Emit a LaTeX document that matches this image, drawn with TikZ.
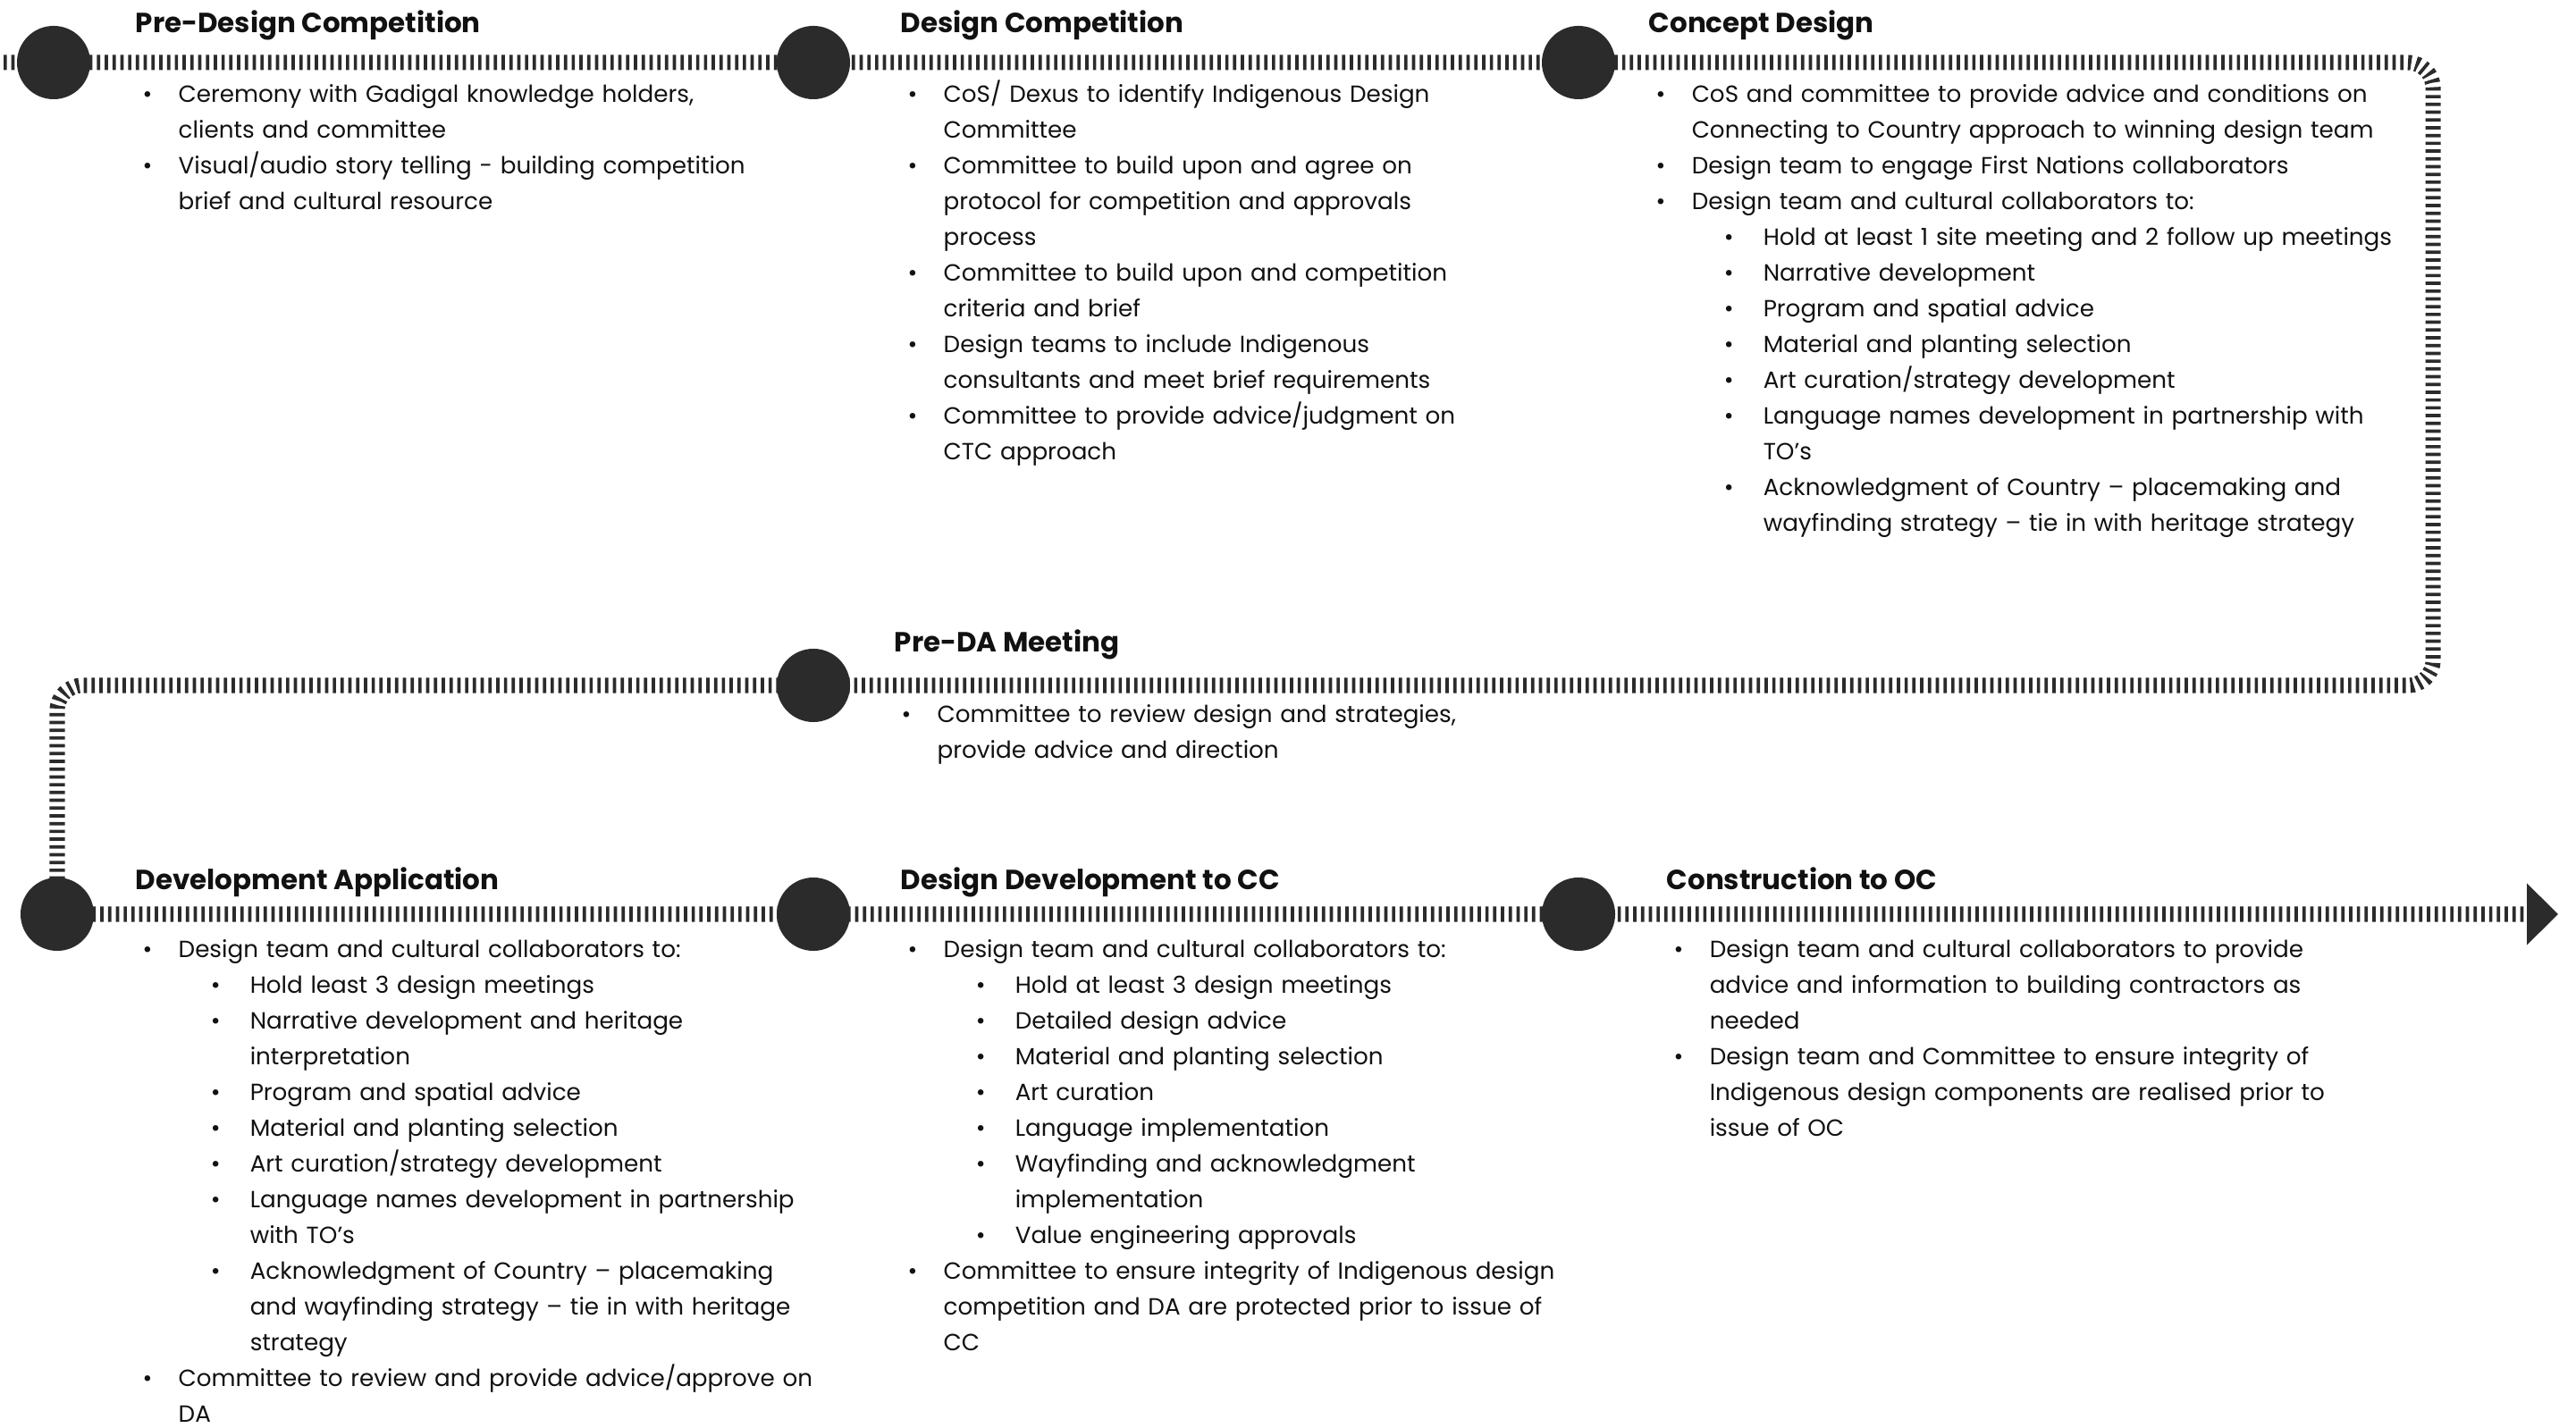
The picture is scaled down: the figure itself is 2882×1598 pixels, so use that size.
\documentclass[tikz,border=0pt]{standalone}
\usepackage{fontspec}
\setmainfont{Poppins}
\usepackage{tikz}
\usetikzlibrary{arrows.meta,positioning}
\definecolor{trackgray}{HTML}{2B2B2B}
\definecolor{inkblack}{HTML}{111111}

\newenvironment{tasklist}{\begin{list}{\textbullet}{\setlength{\leftmargin}{0.48cm}\setlength{\labelwidth}{0.48cm}\setlength{\labelsep}{0pt}\setlength{\itemsep}{0pt}\setlength{\parsep}{0pt}\setlength{\topsep}{0pt}\setlength{\partopsep}{0pt}\renewcommand{\makelabel}[1]{\hspace{0.08cm}##1\hfill}}}{\end{list}}
\newenvironment{subtasklist}{\begin{list}{\textbullet}{\setlength{\leftmargin}{0.8cm}\setlength{\labelwidth}{0.8cm}\setlength{\labelsep}{0pt}\setlength{\itemsep}{0pt}\setlength{\parsep}{0pt}\setlength{\topsep}{0pt}\setlength{\partopsep}{0pt}\renewcommand{\makelabel}[1]{\hspace{0.36cm}##1\hfill}}}{\end{list}}

\begin{document}
\begin{tikzpicture}[x=0.01cm, y=-0.01cm,
  track/.style={draw=trackgray, line width=0.17cm, dash pattern=on 0.037cm off 0.05cm, rounded corners=0.28cm},
  milestone/.style={circle, fill=trackgray, minimum size=0.82cm, inner sep=0pt},
  stagehead/.style={anchor=base west, inner sep=0pt, text=inkblack, font=\fontsize{8.8pt}{10pt}\selectfont\bfseries},
  stagetext/.style={anchor=north west, inner sep=0pt, text=inkblack, text width=9cm, align=left, font=\fontsize{7.45pt}{11.38pt}\selectfont}]
\useasboundingbox (0,0) rectangle (2882,1598);

% the path
\coordinate (start) at (4,70);
\coordinate (turnNE) at (2722,70);
\coordinate (turnSE) at (2722,767);
\coordinate (turnSW) at (64,767);
\coordinate (turnLL) at (64,1023);
\coordinate (finish) at (2862,1023);
\draw[track, -{Triangle[length=0.35cm, width=0.67cm]}] (start) -- (turnNE) -- (turnSE) -- (turnSW) -- (turnLL) -- (finish);

% stops
\node[milestone] (pdc) at (60,70) {};
\node[milestone] (dc) at (910,70) {};
\node[milestone] (cd) at (1766,70) {};
\node[milestone] (pda) at (910,767) {};
\node[milestone] (da) at (64,1023) {};
\node[milestone] (ddc) at (910,1023) {};
\node[milestone] (coc) at (1766,1023) {};

% headings
\node[stagehead] (pdcHead) at (151,37) {Pre-Design Competition};
\node[stagehead] (dcHead) at (1007,37) {Design Competition};
\node[stagehead] (cdHead) at (1844,37) {Concept Design};
\node[stagehead] (pdaHead) at (1000,730) {Pre-DA Meeting};
\node[stagehead] (daHead) at (151,995) {Development Application};
\node[stagehead] (ddcHead) at (1007,995) {Design Development to CC};
\node[stagehead] (cocHead) at (1864,995) {Construction to OC};

% tasks
\node[stagetext] (pdcText) at (151,74) {\begin{tasklist}
\item Ceremony with Gadigal knowledge holders,\\ clients and committee
\item Visual/audio story telling - building competition\\ brief and cultural resource
\end{tasklist}};
\node[stagetext] (dcText) at (1007,74) {\begin{tasklist}
\item CoS/ Dexus to identify Indigenous Design\\ Committee
\item Committee to build upon and agree on\\ protocol for competition and approvals\\ process
\item Committee to build upon and competition\\ criteria and brief
\item Design teams to include Indigenous\\ consultants and meet brief requirements
\item Committee to provide advice/judgment on\\ CTC approach
\end{tasklist}};
\node[stagetext] (cdText) at (1844,74) {\begin{tasklist}
\item CoS and committee to provide advice and conditions on\\ Connecting to Country approach to winning design team
\item Design team to engage First Nations collaborators
\item Design team and cultural collaborators to:
\begin{subtasklist}
\item Hold at least 1 site meeting and 2 follow up meetings
\item Narrative development
\item Program and spatial advice
\item Material and planting selection
\item Art curation/strategy development
\item Language names development in partnership with\\ TO’s
\item Acknowledgment of Country – placemaking and\\ wayfinding strategy – tie in with heritage strategy
\end{subtasklist}
\end{tasklist}};
\node[stagetext] (pdaText) at (1000,768) {\begin{tasklist}
\item Committee to review design and strategies,\\ provide advice and direction
\end{tasklist}};
\node[stagetext] (daText) at (151,1031) {\begin{tasklist}
\item Design team and cultural collaborators to:
\begin{subtasklist}
\item Hold least 3 design meetings
\item Narrative development and heritage\\ interpretation
\item Program and spatial advice
\item Material and planting selection
\item Art curation/strategy development
\item Language names development in partnership\\ with TO’s
\item Acknowledgment of Country – placemaking\\ and wayfinding strategy – tie in with heritage\\ strategy
\end{subtasklist}
\item Committee to review and provide advice/approve on\\ DA
\end{tasklist}};
\node[stagetext] (ddcText) at (1007,1031) {\begin{tasklist}
\item Design team and cultural collaborators to:
\begin{subtasklist}
\item Hold at least 3 design meetings
\item Detailed design advice
\item Material and planting selection
\item Art curation
\item Language implementation
\item Wayfinding and acknowledgment\\ implementation
\item Value engineering approvals
\end{subtasklist}
\item Committee to ensure integrity of Indigenous design\\ competition and DA are protected prior to issue of\\ CC
\end{tasklist}};
\node[stagetext] (cocText) at (1864,1031) {\begin{tasklist}
\item Design team and cultural collaborators to provide\\ advice and information to building contractors as\\ needed
\item Design team and Committee to ensure integrity of\\ Indigenous design components are realised prior to\\ issue of OC
\end{tasklist}};
\end{tikzpicture}
\end{document}
